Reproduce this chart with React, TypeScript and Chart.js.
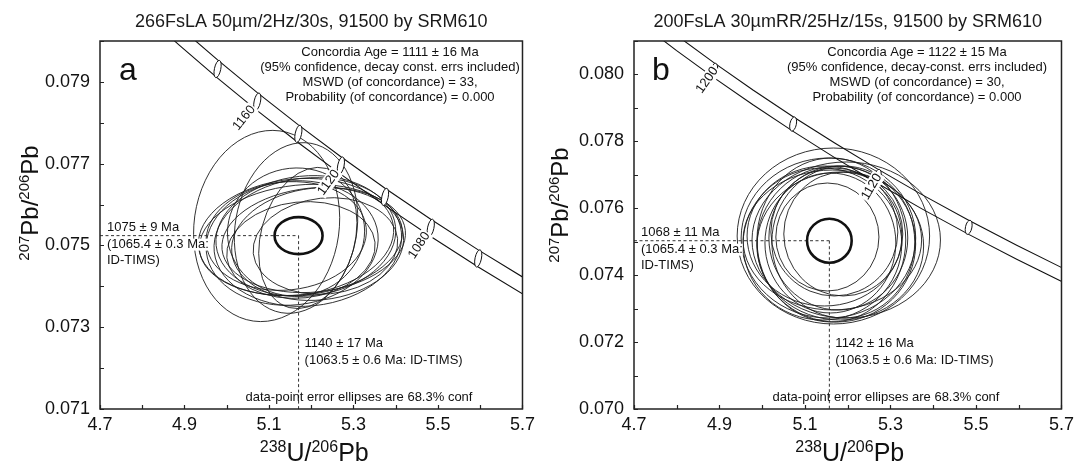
import React, { useEffect, useRef } from 'react';
import { Chart, registerables } from 'chart.js';

Chart.register(...registerables);

const FONT = '"Liberation Sans", Arial, Helvetica, sans-serif';

// Tera-Wasserburg concordia, read at 20 Ma steps (centre line and decay-constant band)
const curveAges = [1240, 1220, 1200, 1180, 1160, 1140, 1120, 1100, 1080, 1060, 1040];
const curveX = [4.71474, 4.79971, 4.88754, 4.97832, 5.07225, 5.16951, 5.2702, 5.37461, 5.48288, 5.59522, 5.71194];
const curveMidY = [0.081769, 0.08094, 0.080123, 0.079315, 0.078518, 0.077731, 0.076954, 0.076187, 0.075431, 0.074683, 0.073947];
const curveUpperY = [0.081998, 0.081167, 0.080347, 0.079537, 0.078738, 0.077949, 0.07717, 0.0764, 0.075642, 0.074892, 0.074154];
const curveLowerY = [0.08154, 0.080713, 0.079899, 0.079093, 0.078298, 0.077513, 0.076739, 0.075974, 0.07522, 0.074474, 0.07374];

const xTickValues = [4.7, 4.8, 4.9, 5.0, 5.1, 5.2, 5.3, 5.4, 5.5, 5.6, 5.7];
const xTickLabels = ['4.7', '', '4.9', '', '5.1', '', '5.3', '', '5.5', '', '5.7'];
const yTickValuesA = [0.071, 0.072, 0.073, 0.074, 0.075, 0.076, 0.077, 0.078, 0.079, 0.08];
const yTickLabelsA = ['0.071', '', '0.073', '', '0.075', '', '0.077', '', '0.079', ''];
const yTickValuesB = [0.07, 0.071, 0.072, 0.073, 0.074, 0.075, 0.076, 0.077, 0.078, 0.079, 0.08, 0.081];
const yTickLabelsB = ['0.070', '', '0.072', '', '0.074', '', '0.076', '', '0.078', '', '0.080', ''];

// Panel a: data-point error ellipses (centre, semi-axes, tilt in degrees)
const ellipseCxA = [5.0944, 5.164, 5.1919, 5.164, 5.1756, 5.1872, 5.1548, 5.2058, 5.1408, 5.2151, 5.1756, 5.164, 5.2336, 5.1919];
const ellipseCyA = [0.075476, 0.075427, 0.075182, 0.075207, 0.075133, 0.075231, 0.07506, 0.075133, 0.075231, 0.075035, 0.074889, 0.075329, 0.074986, 0.075084];
const ellipseRxA = [0.1717, 0.1439, 0.1114, 0.232, 0.2413, 0.2135, 0.2042, 0.2181, 0.1903, 0.2042, 0.1763, 0.1624, 0.1717, 0.2227];
const ellipseRyA = [0.002348, 0.002103, 0.001761, 0.001418, 0.001345, 0.001467, 0.001516, 0.001272, 0.001321, 0.00137, 0.001174, 0.001565, 0.001174, 0.001565];
const ellipseTiltA = [8, 10, 15, -6, -6, -6, -6, -6, -6, -6, -6, -6, -6, -6];
const meanA = [5.17, 0.07524, 0.0568, 0.000452];
const markerAgesA = [1180, 1160, 1140, 1120, 1100, 1080, 1060];
const labelAgesA = [1160, 1120, 1080];

// Panel b
const ellipseCxB = [5.1664, 5.1965, 5.1548, 5.1733, 5.1617, 5.178, 5.1455, 5.1896, 5.1594, 5.1687, 5.1524, 5.1826, 5.1408, 5.1896, 5.164];
const ellipseCyB = [0.075171, 0.075052, 0.075111, 0.074932, 0.075052, 0.075111, 0.075171, 0.074992, 0.074962, 0.075291, 0.075141, 0.074872, 0.074932, 0.075231, 0.075052];
const ellipseRxB = [0.2251, 0.2204, 0.2042, 0.1856, 0.174, 0.1624, 0.181, 0.1671, 0.1531, 0.1485, 0.1206, 0.1949, 0.1856, 0.1392, 0.2088];
const ellipseRyB = [0.00263, 0.002332, 0.002391, 0.002332, 0.002451, 0.002152, 0.002092, 0.002272, 0.002092, 0.001913, 0.001614, 0.002212, 0.002272, 0.001853, 0.002092];
const ellipseTiltB = [0, 0, 0, 0, 0, 0, 0, 0, 0, 0, 0, 0, 0, 0, 0];
const meanB = [5.157, 0.07503, 0.0522, 0.000658];
const markerAgesB = [1200, 1160, 1120, 1080];
const labelAgesB = [1200, 1120];

const textA = {
  title: '266FsLA 50µm/2Hz/30s, 91500 by SRM610',
  letter: 'a',
  concordia: ['Concordia Age = 1111 ± 16 Ma', '(95% confidence, decay const. errs included)', 'MSWD (of concordance) = 33,', 'Probability (of concordance) = 0.000'],
  left: ['1075 ± 9 Ma', '(1065.4 ± 0.3 Ma:', 'ID-TIMS)'],
  bottom: ['1140 ± 17 Ma', '(1063.5 ± 0.6 Ma: ID-TIMS)'],
  foot: 'data-point error ellipses are 68.3% conf',
};
const textB = {
  title: '200FsLA 30µmRR/25Hz/15s, 91500 by SRM610',
  letter: 'b',
  concordia: ['Concordia Age = 1122 ± 15 Ma', '(95% confidence, decay-const. errs included)', 'MSWD (of concordance) = 30,', 'Probability (of concordance) = 0.000'],
  left: ['1068 ± 11 Ma', '(1065.4 ± 0.3 Ma:', 'ID-TIMS)'],
  bottom: ['1142 ± 16 Ma', '(1063.5 ± 0.6 Ma: ID-TIMS)'],
  foot: 'data-point error ellipses are 68.3% conf',
};

type Layout = {
  width: number; yAxisW: number; padRight: number;
  concCx: number; footCx: number; labelDist: number;
  yTitleX: number; yTitleCy: number; letterDx: number; xTitleDx: number;
};

const layoutA: Layout = { width: 540, yAxisW: 100, padRight: 9, concCx: 290, footCx: 259, labelDist: 21, yTitleX: 38, yTitleCy: 203, letterDx: 19, xTitleDx: 3 };
const layoutB: Layout = { width: 539, yAxisW: 94, padRight: 14, concCx: 283, footCx: 252, labelDist: 12, yTitleX: 28, yTitleCy: 205, letterDx: 18, xTitleDx: 2 };

function drawEllipse(ctx: any, xs: any, ys: any, cx: number, cy: number, rx: number, ry: number, tilt: number) {
  const px = xs.getPixelForValue(cx);
  const py = ys.getPixelForValue(cy);
  const rpx = Math.abs(xs.getPixelForValue(cx + rx) - px);
  const rpy = Math.abs(ys.getPixelForValue(cy + ry) - py);
  ctx.beginPath();
  ctx.ellipse(px, py, rpx, rpy, (tilt * Math.PI) / 180, 0, Math.PI * 2);
}

function drawRich(ctx: any, parts: [string, boolean][], cx: number, by: number, F: number, f: number, rise: number) {
  let total = 0;
  const ws = parts.map(([t, sup]) => {
    ctx.font = `${sup ? f : F}px ${FONT}`;
    const w = ctx.measureText(t).width;
    total += w;
    return w;
  });
  let x = cx - total / 2;
  ctx.textAlign = 'left';
  ctx.textBaseline = 'alphabetic';
  parts.forEach(([t, sup], i) => {
    ctx.font = `${sup ? f : F}px ${FONT}`;
    ctx.fillText(t, x, sup ? by - rise : by);
    x += ws[i];
  });
}

function makeConfig(p: any) {
  const L: Layout = p.layout;
  const plugin = {
    id: 'concordiaPanel',
    beforeDatasetsDraw(chart: any) {
      const { ctx, chartArea: a, scales } = chart;
      const xs = scales.x, ys = scales.y;
      ctx.save();
      ctx.beginPath();
      ctx.rect(a.left, a.top, a.right - a.left, a.bottom - a.top);
      ctx.clip();
      ctx.strokeStyle = '#1c1c1c';
      ctx.lineWidth = 0.9;
      for (let i = 0; i < p.ex.length; i++) {
        drawEllipse(ctx, xs, ys, p.ex[i], p.ey[i], p.erx[i], p.ery[i], p.etilt[i]);
        ctx.stroke();
      }
      ctx.restore();
    },
    afterDatasetsDraw(chart: any) {
      const { ctx, chartArea: a, scales } = chart;
      const xs = scales.x, ys = scales.y;
      const T = p.text;
      ctx.save();
      ctx.beginPath();
      ctx.rect(a.left, a.top, a.right - a.left, a.bottom - a.top);
      ctx.clip();
      // weighted mean ellipse
      ctx.strokeStyle = '#111';
      ctx.lineWidth = 2.6;
      drawEllipse(ctx, xs, ys, p.mean[0], p.mean[1], p.mean[2], p.mean[3], 0);
      ctx.stroke();
      // age markers
      ctx.lineWidth = 1;
      for (const age of p.markerAges) {
        const i = curveAges.indexOf(age);
        drawEllipse(ctx, xs, ys, curveX[i], curveMidY[i], 0.0075, 0.000215, 12);
        ctx.fillStyle = '#fff';
        ctx.fill();
        ctx.stroke();
      }
      // age labels
      ctx.font = `13px ${FONT}`;
      for (const age of p.labelAges) {
        const i = curveAges.indexOf(age);
        const p0x = xs.getPixelForValue(curveX[i - 1]), p0y = ys.getPixelForValue(curveMidY[i - 1]);
        const p1x = xs.getPixelForValue(curveX[i + 1]), p1y = ys.getPixelForValue(curveMidY[i + 1]);
        const ang = Math.atan2(p1y - p0y, p1x - p0x);
        const mx = xs.getPixelForValue(curveX[i]), my = ys.getPixelForValue(curveMidY[i]);
        const lx = mx - Math.sin(ang) * L.labelDist;
        const ly = my + Math.cos(ang) * L.labelDist;
        ctx.save();
        ctx.translate(lx, ly);
        ctx.rotate(ang - Math.PI / 2);
        const s = String(age);
        const w = ctx.measureText(s).width;
        ctx.fillStyle = '#fff';
        ctx.fillRect(-w / 2 - 1, -7, w + 2, 14);
        ctx.fillStyle = '#111';
        ctx.textAlign = 'center';
        ctx.textBaseline = 'middle';
        ctx.fillText(s, 0, 0);
        ctx.restore();
      }
      ctx.restore();

      // annotations
      ctx.fillStyle = '#111';
      ctx.font = `13px ${FONT}`;
      ctx.textBaseline = 'middle';
      ctx.textAlign = 'center';
      T.concordia.forEach((s: string, k: number) => ctx.fillText(s, a.left + L.concCx, a.top + 11 + k * 15.2));
      const mxp = xs.getPixelForValue(p.mean[0]);
      const myp = ys.getPixelForValue(p.mean[1]);
      ctx.textAlign = 'left';
      const leftOff = [-8, 9, 25];
      T.left.forEach((s: string, k: number) => {
        const w = ctx.measureText(s).width;
        ctx.fillStyle = '#fff';
        ctx.fillRect(a.left + 7, myp + leftOff[k] - 6, w, 12);
        ctx.fillStyle = '#111';
        ctx.fillText(s, a.left + 7, myp + leftOff[k]);
      });
      const botOff = [-66, -49];
      T.bottom.forEach((s: string, k: number) => ctx.fillText(s, mxp + 6, a.bottom + botOff[k]));
      ctx.textAlign = 'center';
      ctx.fillText(T.foot, a.left + L.footCx, a.bottom - 12);

      // letter
      ctx.font = `32px ${FONT}`;
      ctx.textAlign = 'left';
      ctx.textBaseline = 'alphabetic';
      ctx.fillText(T.letter, a.left + L.letterDx, 80);

      // frame
      ctx.strokeStyle = '#222';
      ctx.lineWidth = 1.5;
      ctx.strokeRect(a.left, a.top, a.right - a.left, a.bottom - a.top);
      // inward ticks
      ctx.lineWidth = 1.2;
      ctx.beginPath();
      for (const v of xTickValues) {
        const px = Math.round(xs.getPixelForValue(v)) + 0.5;
        ctx.moveTo(px, a.bottom);
        ctx.lineTo(px, a.bottom - 4);
      }
      for (const v of p.yTickValues) {
        const py = Math.round(ys.getPixelForValue(v)) + 0.5;
        ctx.moveTo(a.left, py);
        ctx.lineTo(a.left + 4, py);
      }
      ctx.stroke();

      // title
      ctx.fillStyle = '#1a1a1a';
      ctx.font = `18px ${FONT}`;
      ctx.textAlign = 'center';
      ctx.textBaseline = 'middle';
      ctx.fillText(T.title, (a.left + a.right) / 2, 22);

      // axis titles
      ctx.fillStyle = '#111';
      drawRich(ctx, [['238', true], ['U/', false], ['206', true], ['Pb', false]], (a.left + a.right) / 2 + L.xTitleDx, 461, 25, 16, 9);
      ctx.save();
      ctx.translate(L.yTitleX, L.yTitleCy);
      ctx.rotate(-Math.PI / 2);
      drawRich(ctx, [['207', true], ['Pb/', false], ['206', true], ['Pb', false]], 0, 0, 24, 15, 9);
      ctx.restore();
    },
  };

  const line = (data: any[], extra: any = {}) => ({
    data, borderColor: '#111', borderWidth: 1.1, pointRadius: 0, tension: 0, clip: 0, fill: false, ...extra,
  });

  return {
    type: 'line',
    data: {
      datasets: [
        line(curveX.map((v, i) => ({ x: v, y: curveUpperY[i] }))),
        line(curveX.map((v, i) => ({ x: v, y: curveLowerY[i] }))),
        line([{ x: 4.7, y: p.mean[1] }, { x: p.mean[0], y: p.mean[1] }], { borderDash: [3, 2.5], borderWidth: 1, borderColor: '#333' }),
        line([{ x: p.mean[0], y: p.mean[1] }, { x: p.mean[0], y: p.yMin }], { borderDash: [3, 2.5], borderWidth: 1, borderColor: '#333' }),
      ],
    },
    options: {
      responsive: false,
      animation: false,
      events: [],
      layout: { padding: { left: 0, right: L.padRight, top: 41, bottom: 0 } },
      plugins: { legend: { display: false }, tooltip: { enabled: false }, title: { display: false } },
      scales: {
        x: {
          type: 'linear', min: 4.7, max: 5.7,
          afterBuildTicks: (s: any) => { s.ticks = xTickValues.map((v) => ({ value: v })); },
          afterFit: (s: any) => { s.height = 57; },
          grid: { display: false, drawTicks: false },
          border: { display: false },
          ticks: { autoSkip: false, maxRotation: 0, padding: 5, color: '#111', font: { family: FONT, size: 18 }, callback: (_v: any, i: number) => xTickLabels[i] ?? '' },
        },
        y: {
          type: 'linear', min: p.yMin, max: p.yMax,
          afterBuildTicks: (s: any) => { s.ticks = p.yTickValues.map((v: number) => ({ value: v })); },
          afterFit: (s: any) => { s.width = L.yAxisW; },
          grid: { display: false, drawTicks: false },
          border: { display: false },
          ticks: { autoSkip: false, padding: 10, color: '#111', font: { family: FONT, size: 18 }, callback: (_v: any, i: number) => p.yTickLabels[i] ?? '' },
        },
      },
    },
    plugins: [plugin],
  };
}

const panelA = {
  layout: layoutA, text: textA, yMin: 0.071, yMax: 0.08,
  yTickValues: yTickValuesA, yTickLabels: yTickLabelsA,
  ex: ellipseCxA, ey: ellipseCyA, erx: ellipseRxA, ery: ellipseRyA, etilt: ellipseTiltA,
  mean: meanA, markerAges: markerAgesA, labelAges: labelAgesA,
};
const panelB = {
  layout: layoutB, text: textB, yMin: 0.07, yMax: 0.081,
  yTickValues: yTickValuesB, yTickLabels: yTickLabelsB,
  ex: ellipseCxB, ey: ellipseCyB, erx: ellipseRxB, ery: ellipseRyB, etilt: ellipseTiltB,
  mean: meanB, markerAges: markerAgesB, labelAges: labelAgesB,
};

function Panel({ spec, left }: { spec: any; left: number }) {
  const ref = useRef<HTMLCanvasElement>(null);
  useEffect(() => {
    const chart = new Chart(ref.current as HTMLCanvasElement, makeConfig(spec) as any);
    return () => chart.destroy();
  }, [spec]);
  return (
    <canvas
      ref={ref}
      width={spec.layout.width}
      height={466}
      style={{ position: 'absolute', left, top: 0, width: spec.layout.width, height: 466 }}
    />
  );
}

export default function App() {
  return (
    <div style={{ position: 'absolute', left: 0, top: 0, width: 1079, height: 466, background: '#fff' }}>
      <Panel spec={panelA} left={0} />
      <Panel spec={panelB} left={540} />
    </div>
  );
}
